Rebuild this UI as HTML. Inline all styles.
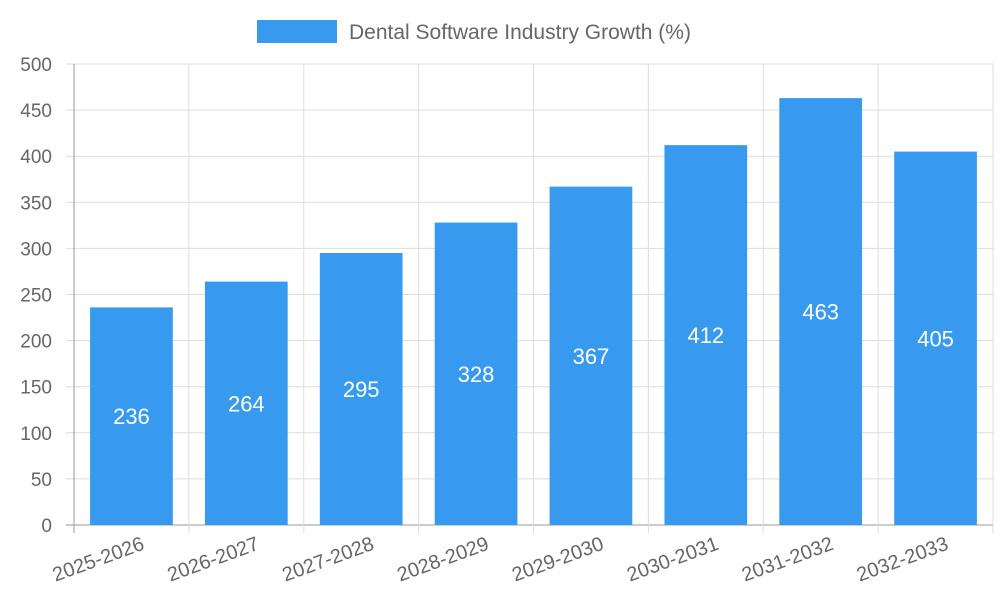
<!DOCTYPE html>
<html><head><meta charset="utf-8"><style>
body{margin:0;background:#fff;font-family:"Liberation Sans",sans-serif;}
svg text{font-family:"Liberation Sans",sans-serif;}
</style></head><body>
<svg id="chart" width="1000" height="600">
<g id="legend">
<rect x="257" y="20" width="80" height="23" fill="#379aef"></rect>
<text x="349" y="39" font-size="21" fill="#666">Dental Software Industry Growth (%)</text>
</g>
<g id="grid"></g><g id="bars"></g><g id="labels"></g>
</svg>
<script>
const categories=["2025-2026","2026-2027","2027-2028","2028-2029","2029-2030","2030-2031","2031-2032","2032-2033"];
const values=[236,264,295,328,367,412,463,405];
const yTicks=[0,50,100,150,200,250,300,350,400,450,500];
const NS="http://www.w3.org/2000/svg";
const L=74,R=993,T=64,B=525,yMax=500;
const cw=(R-L)/categories.length;
const y=v=>B-(v/yMax)*(B-T);
const x=i=>L+i*cw;
function mk(tag,attrs,parent,txt){const e=document.createElementNS(NS,tag);for(const k in attrs)e.setAttribute(k,attrs[k]);if(txt!==undefined)e.textContent=txt;parent.appendChild(e);return e;}
const grid=document.getElementById('grid'),bars=document.getElementById('bars'),labels=document.getElementById('labels');
yTicks.forEach(t=>{
 const ln=mk('line',{x1:66,x2:R,y1:y(t),y2:y(t),stroke:t===0?'#999':'#ddd','stroke-width':1},grid);
 
 
 const tx=mk('text',{x:52,y:y(t)+7,'font-size':19,fill:'#666','text-anchor':'end'},grid,t);
 
 
});
for(let i=0;i<=categories.length;i++){
 const ln=mk('line',{x1:x(i),x2:x(i),y1:T,y2:B+8,stroke:i===0?'#999':'#ddd','stroke-width':1},grid);
 
 
}
categories.forEach((c,i)=>{
 const bw=cw*0.72,bx=x(i)+(cw-bw)/2,v=values[i];
 const r=mk('rect',{x:bx,y:y(v),width:bw,height:B-y(v),fill:'#379aef'},bars);
 
 
 const vt=mk('text',{x:bx+bw/2,y:(y(v)+B)/2+8,'font-size':22,fill:'#fff','text-anchor':'middle'},labels,v);
 
 
 const cx=x(i)+cw/2+14,cy=B+24;
 const ct=mk('text',{x:cx,y:cy,'font-size':20,fill:'#666','text-anchor':'end',transform:`rotate(-20 ${cx} ${cy})`},labels,c);
 
 
});
</script>
</body></html>
